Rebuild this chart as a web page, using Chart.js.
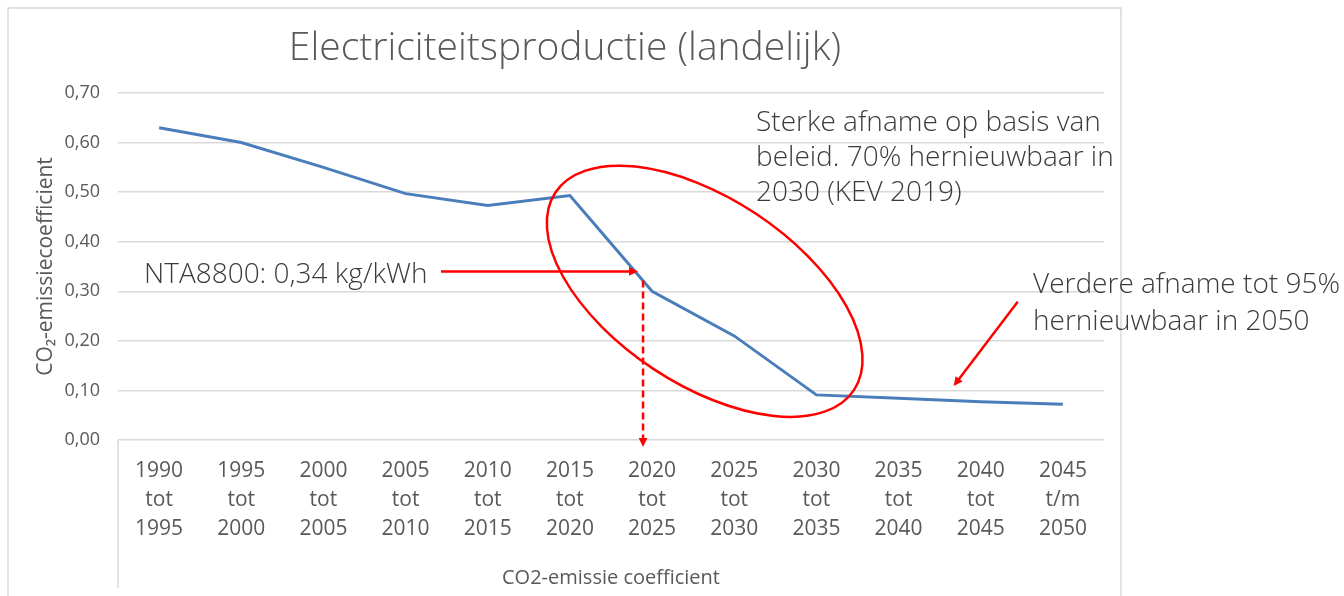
<!DOCTYPE html>
<html>
<head>
<meta charset="utf-8">
<script src="https://cdn.jsdelivr.net/npm/chart.js@4/dist/chart.umd.min.js"></script>
<style>
    html, body {
        margin: 0;
        padding: 0;
        background: #ffffff;
    }

    #wrap {
        position: relative;
        width: 1344px;
        height: 596px;
    }
</style>
</head>
<body>
<div id="wrap"><canvas id="chart" width="1344" height="596"></canvas></div>
<script>
// Periods on the category axis (three text lines each)
const periodFrom = ['1990', '1995', '2000', '2005', '2010', '2015', '2020', '2025', '2030', '2035', '2040', '2045']
const periodWord = ['tot', 'tot', 'tot', 'tot', 'tot', 'tot', 'tot', 'tot', 'tot', 'tot', 'tot', 't/m']
const periodTo = ['1995', '2000', '2005', '2010', '2015', '2020', '2025', '2030', '2035', '2040', '2045', '2050']

// CO2 emission coefficient (kg/kWh) per period
const co2Coefficient = [0.63, 0.60, 0.55, 0.497, 0.473, 0.493, 0.30, 0.21, 0.091, 0.084, 0.077, 0.072]

const yTickLabels = ['0,00', '0,10', '0,20', '0,30', '0,40', '0,50', '0,60', '0,70']

const chartTitle = 'Electriciteitsproductie (landelijk)'
const ntaLabel = 'NTA8800: 0,34 kg/kWh'
const ntaValue = 0.34
const policyNote = ['Sterke afname op basis van', 'beleid. 70% hernieuwbaar in', '2030 (KEV 2019)']
const futureNote = ['Verdere afname tot 95%', 'hernieuwbaar in 2050']

const categories = periodFrom.map((from, i) => [from, periodWord[i], periodTo[i]])

const FONT = "'Open Sans', 'Noto Sans', sans-serif"
const RED = '#ff0000'
const FRAME = '#d9d9d9'

function arrowHead(ctx, x1, y1, x2, y2, size) {
    const a = Math.atan2(y2 - y1, x2 - x1)
    ctx.beginPath()
    ctx.moveTo(x2, y2)
    ctx.lineTo(x2 - size * Math.cos(a - 0.45), y2 - size * Math.sin(a - 0.45))
    ctx.lineTo(x2 - size * Math.cos(a + 0.45), y2 - size * Math.sin(a + 0.45))
    ctx.closePath()
    ctx.fill()
}

function arrow(ctx, x1, y1, x2, y2, dashed) {
    const a = Math.atan2(y2 - y1, x2 - x1)
    ctx.save()
    ctx.strokeStyle = RED
    ctx.fillStyle = RED
    ctx.lineWidth = 2.5
    if (dashed) ctx.setLineDash([7, 4])
    ctx.beginPath()
    ctx.moveTo(x1, y1)
    ctx.lineTo(x2 - 7 * Math.cos(a), y2 - 7 * Math.sin(a))
    ctx.stroke()
    ctx.setLineDash([])
    arrowHead(ctx, x1, y1, x2, y2, 10)
    ctx.restore()
}

const annotations = {
    id: 'annotations',
    beforeDraw(chart) {
        const { ctx, chartArea } = chart
        ctx.save()
        ctx.strokeStyle = FRAME
        ctx.lineWidth = 1.5
        ctx.beginPath()
        ctx.moveTo(8, 596)
        ctx.lineTo(8, 8)
        ctx.lineTo(1121, 8)
        ctx.lineTo(1121, 596)
        ctx.moveTo(chartArea.left, chartArea.bottom)
        ctx.lineTo(chartArea.left, 588)
        ctx.stroke()

        ctx.fillStyle = '#595959'
        ctx.font = `300 39px ${FONT}`
        ctx.textAlign = 'center'
        ctx.textBaseline = 'alphabetic'
        ctx.fillText(chartTitle, 565, 60)
        ctx.restore()
    },
    afterDatasetsDraw(chart) {
        const { ctx } = chart
        const x = chart.scales.x
        const y = chart.scales.y

        ctx.save()
        ctx.fillStyle = '#3b3b3b'
        ctx.textAlign = 'left'
        ctx.textBaseline = 'alphabetic'
        ctx.font = `300 28px ${FONT}`
        ctx.fillText(ntaLabel, 144, 283)
        policyNote.forEach((line, i) => ctx.fillText(line, 756, 131 + i * 35))
        futureNote.forEach((line, i) => ctx.fillText(line, 1033, 293 + i * 37))

        // NTA8800 value: horizontal arrow to the line, dashed arrow down to the axis
        const ntaY = y.getPixelForValue(ntaValue)
        const ntaX = x.getPixelForValue(5.89)
        arrow(ctx, 441, ntaY, ntaX - 5, ntaY, false)
        arrow(ctx, ntaX, ntaY + 9, ntaX, y.getPixelForValue(0) + 7, true)

        // ellipse round the steep decline
        ctx.strokeStyle = RED
        ctx.lineWidth = 2.5
        ctx.beginPath()
        ctx.ellipse(x.getPixelForValue(6.64), y.getPixelForValue(0.30), 179, 93, 33.5 * Math.PI / 180, 0, Math.PI * 2)
        ctx.stroke()

        // arrow to the flat tail
        arrow(ctx, x.getPixelForValue(10.45), y.getPixelForValue(0.279), x.getPixelForValue(9.67), y.getPixelForValue(0.109), false)
        ctx.restore()
    }
}

new Chart(document.getElementById('chart'), {
    type: 'line',
    data: {
        labels: categories,
        datasets: [{
            data: co2Coefficient,
            borderColor: '#4a7ebb',
            borderWidth: 3,
            pointRadius: 0,
            tension: 0,
            fill: false
        }]
    },
    options: {
        responsive: false,
        animation: false,
        layout: { padding: { top: 93, right: 240, left: 0, bottom: 0 } },
        plugins: {
            legend: { display: false },
            title: { display: false },
            tooltip: { enabled: false }
        },
        scales: {
            x: {
                offset: true,
                grid: { display: false, drawTicks: false },
                border: { display: false },
                ticks: {
                    color: '#595959',
                    font: { family: FONT, size: 21, lineHeight: 29 / 21 },
                    padding: 17,
                    maxRotation: 0,
                    autoSkip: false
                },
                title: {
                    display: true,
                    text: 'CO2-emissie coefficient',
                    color: '#595959',
                    font: { family: FONT, size: 20 },
                    padding: { top: 0, bottom: 6 }
                },
                afterFit: (scale) => { scale.height = 156 }
            },
            y: {
                min: 0,
                max: 0.7,
                grid: { color: FRAME, lineWidth: 1.5, drawTicks: false },
                border: { display: false },
                ticks: {
                    stepSize: 0.1,
                    color: '#595959',
                    font: { family: FONT, size: 18 },
                    padding: 18,
                    callback: (value, index) => yTickLabels[index]
                },
                title: {
                    display: true,
                    text: 'CO\u2082-emissiecoefficient',
                    color: '#595959',
                    font: { family: FONT, size: 21 },
                    padding: { top: 33, bottom: 0 }
                },
                afterFit: (scale) => { scale.width = 118 }
            }
        }
    },
    plugins: [annotations]
})
</script>
</body>
</html>
